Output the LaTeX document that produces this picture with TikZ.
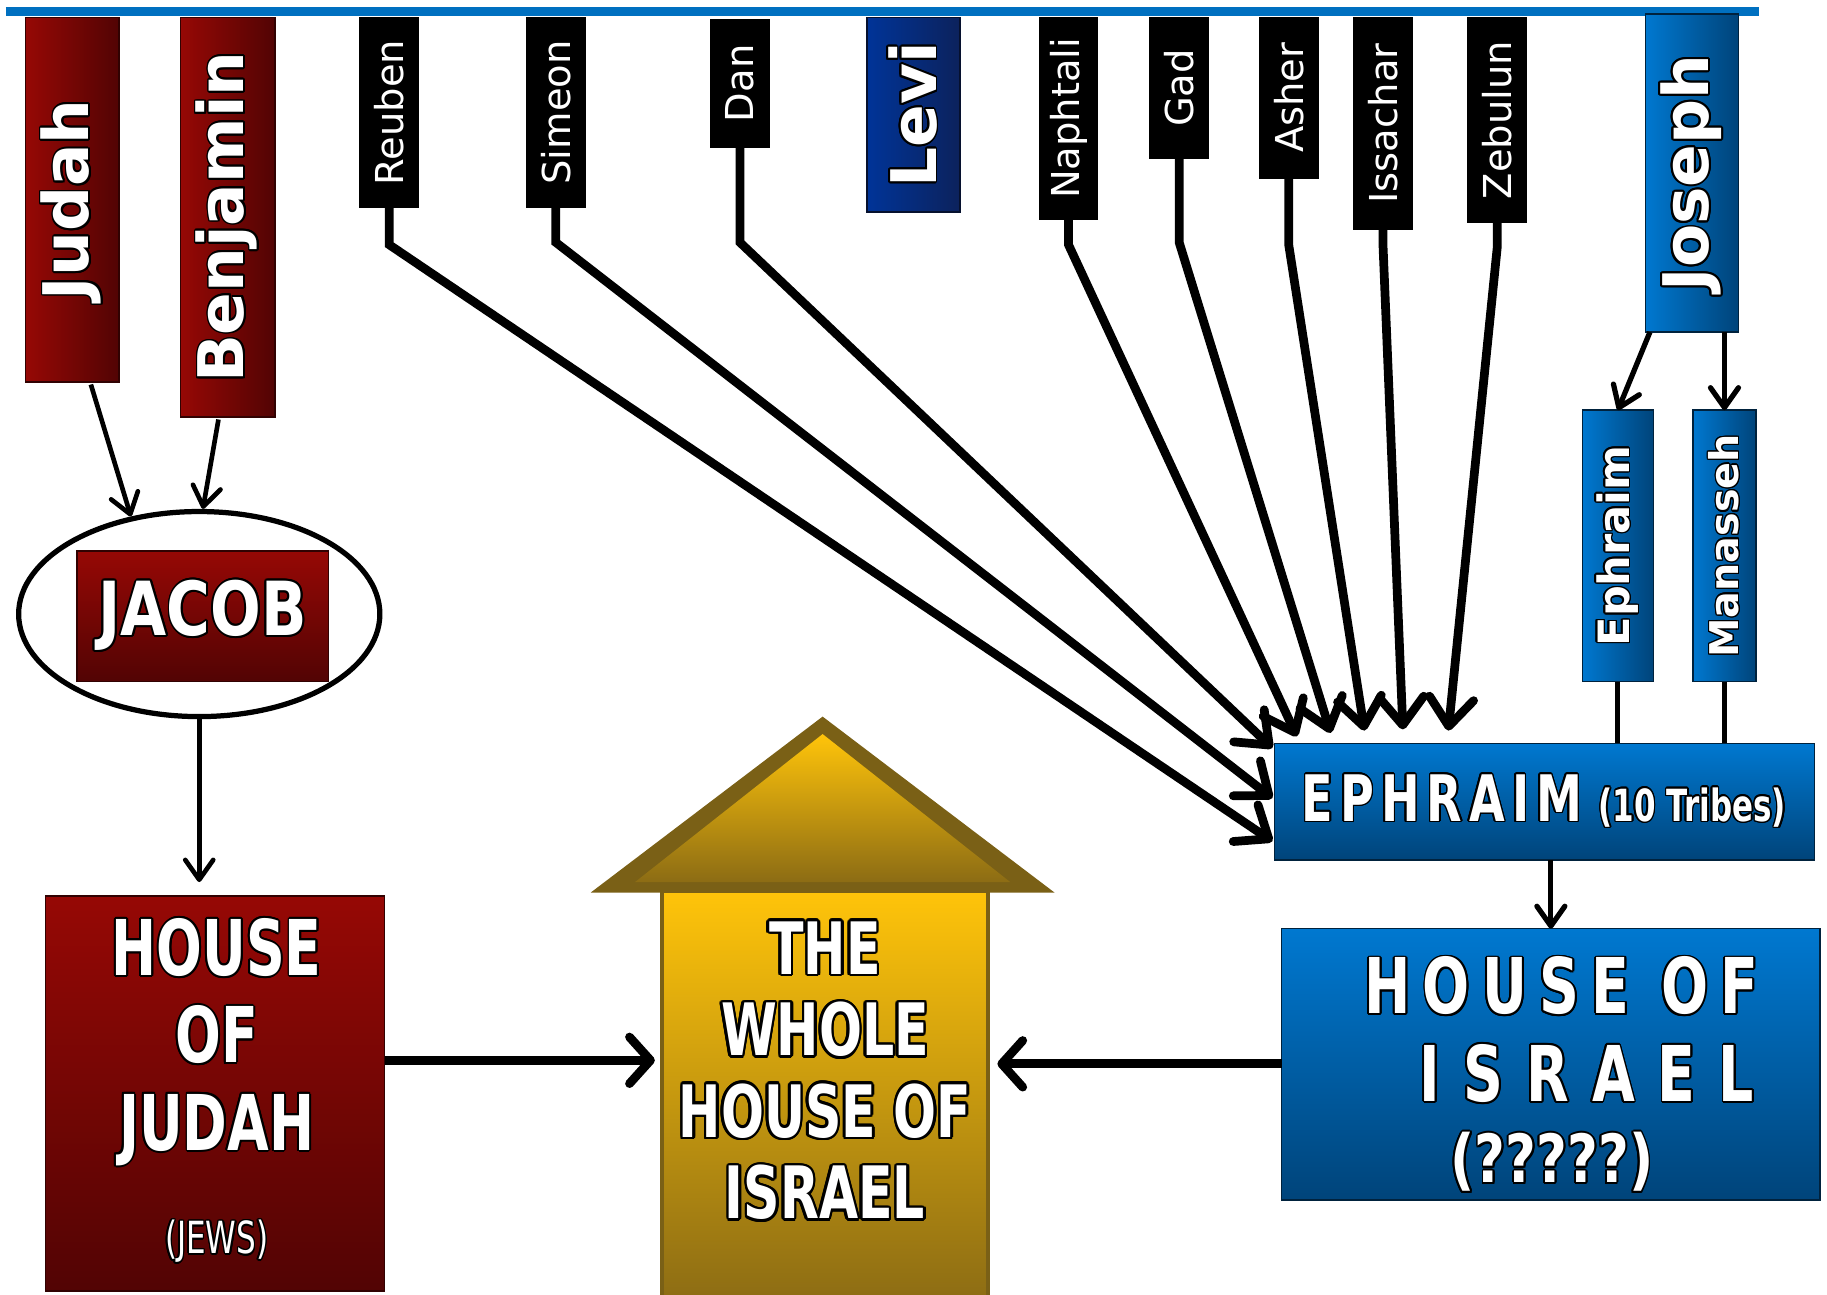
\documentclass[tikz,border=0pt]{standalone}
\usepackage{fontspec}
\setmainfont{DejaVu Sans}
\newfontfamily\condfont{DejaVu Sans}[FakeStretch=0.7]
\newfontfamily\jfont{DejaVu Sans}[FakeStretch=0.8]
\newfontfamily\spfont{DejaVu Sans}[FakeStretch=0.72,LetterSpace=11]
\newfontfamily\hfont{DejaVu Sans}[FakeStretch=0.72,LetterSpace=16]
\newfontfamily\ifont{DejaVu Sans}[FakeStretch=0.72,LetterSpace=30]
\newfontfamily\qfont{DejaVu Sans}[FakeStretch=0.8]
\usepackage{contour}
\usetikzlibrary{arrows.meta,calc,shapes.geometric}
\definecolor{redA}{RGB}{150,8,5}
\definecolor{redB}{RGB}{82,4,4}
\definecolor{blueA}{RGB}{0,120,208}
\definecolor{blueB}{RGB}{0,68,122}
\definecolor{levA}{RGB}{0,52,152}
\definecolor{levB}{RGB}{12,34,92}
\definecolor{goldA}{RGB}{255,196,10}
\definecolor{goldB}{RGB}{140,108,20}
\definecolor{goldE}{RGB}{122,96,22}
\definecolor{topline}{RGB}{0,112,192}
\newcommand\bx[6]{\node[#6, minimum width={(#4-#2)*1pt}, minimum height={(#5-#3)*1pt}] (#1) at ({(#2+#4)/2},{(#3+#5)/2}) {};}
\newcommand\oc[2][1.6pt]{\contourlength{#1}\contour{black}{#2}}
\tikzset{
 box/.style={rectangle, inner sep=0pt, outer sep=0pt, line width=1.2pt, draw=black},
 redh/.style={box, left color=redA, right color=redB, draw=redB!60!black},
 redv/.style={box, top color=redA, bottom color=redB, draw=redB!60!black},
 blueh/.style={box, left color=blueA, right color=blueB, draw=blueB!50!black},
 bluev/.style={box, top color=blueA, bottom color=blueB, draw=blueB!50!black},
 levih/.style={box, left color=levA, right color=levB, draw=levB!50!black},
 goldbox/.style={box, top color=goldA, bottom color=goldB, draw=goldE, line width=3pt},
 blk/.style={box, fill=black},
 vtext/.style={rotate=90, text=white, inner sep=0pt},
 bigname/.style={vtext, font=\bfseries\fontsize{54}{60}\selectfont},
 smallname/.style={vtext, font=\fontsize{33}{38}\selectfont},
 tribearr/.style={line width=7.5pt, -{Straight Barb[length=24pt,width=38pt,round]}},
 thinarr/.style={line width=4pt, -{Straight Barb[length=17pt,width=24pt,round]}},
 fatarr/.style={line width=7.5pt, -{Straight Barb[length=18pt,width=40pt,round]}},
 plain/.style={line width=4.5pt},
}
\begin{document}
\begin{tikzpicture}[x=1pt,y=-1pt]
\useasboundingbox (0,0) rectangle (1568,1111.4);
\draw[line width=8pt, topline] (5,10) -- (1510,10);
% tribe boxes
\bx{judah}{22}{15}{102}{328}{redh}
\node[bigname] at (judah) {\oc{Judah}};
\bx{benj}{155}{15}{236}{358}{redh}
\node[bigname] at (benj) {\oc{Benjamin}};
\bx{reuben}{309}{15}{359}{178}{blk}
\node[smallname] at (reuben) {Reuben};
\bx{simeon}{452}{15}{502}{178}{blk}
\node[smallname] at (simeon) {Simeon};
\bx{dan}{610}{17}{660}{126}{blk}
\node[smallname] at (dan) {Dan};
\bx{levi}{744}{15}{824}{182}{levih}
\node[bigname] at (levi) {\oc{Levi}};
\bx{naph}{892}{15}{942}{188}{blk}
\node[smallname] at (naph) {Naphtali};
\bx{gad}{987}{15}{1037}{136}{blk}
\node[smallname] at (gad) {Gad};
\bx{asher}{1081}{15}{1131}{153}{blk}
\node[smallname] at (asher) {Asher};
\bx{issa}{1162}{15}{1212}{197}{blk}
\node[smallname] at (issa) {Issachar};
\bx{zeb}{1260}{15}{1310}{191}{blk}
\node[smallname] at (zeb) {Zebulun};
\bx{joseph}{1412}{12}{1492}{285}{blueh}
\node[bigname] at (joseph) {\oc{Joseph}};
\bx{ephs}{1358}{352}{1419}{585}{blueh}
\node[vtext, font=\bfseries\fontsize{37}{40}\selectfont] at (ephs) {\oc[1.2pt]{Ephraim}};
\bx{man}{1453}{352}{1507}{585}{blueh}
\node[vtext, font=\bfseries\fontsize{34}{40}\selectfont] at (man) {\oc[1.2pt]{Manasseh}};
% Ephraim (10 tribes)
\bx{eph}{1094}{638}{1557}{738}{bluev}
\node[text=white, inner sep=0pt] at (1325,688) {\spfont\bfseries\fontsize{55}{60}\selectfont\oc[1.4pt]{EPHRAIM}\hspace{14pt}\condfont\fontsize{38}{40}\selectfont\oc[1.3pt]{(10 Tribes)}};
% House of Israel
\bx{hoi}{1100}{797}{1562}{1030}{bluev}
\node[text=white, inner sep=0pt] at (1340,847) {\hfont\bfseries\fontsize{66}{70}\selectfont\oc[1.6pt]{HOUSE OF}};
\node[text=white, inner sep=0pt] at (1362,922) {\ifont\bfseries\fontsize{66}{70}\selectfont\oc[1.6pt]{ISRAEL}};
\node[text=white, inner sep=0pt] at (1332,998) {\qfont\bfseries\fontsize{57}{60}\selectfont\oc[1.6pt]{(?????)}};
% Jacob
\node[ellipse, draw, line width=4.5pt, fill=white, minimum width=310pt, minimum height=176pt, inner sep=0pt] (jacobE) at (171,527) {};
\bx{jacob}{66}{473}{282}{585}{redv}
\node[text=white, inner sep=0pt, font=\jfont\bfseries\fontsize{64}{70}\selectfont] at (jacob) {\oc[1.6pt]{JACOB}};
% House of Judah
\bx{hj}{39}{769}{330}{1108}{redv}
\node[text=white, align=center, inner sep=0pt, font=\condfont\bfseries\fontsize{66}{75}\selectfont] at (186,895) {\oc{HOUSE}\\\oc{OF}\\\oc{JUDAH}};
\node[text=white, inner sep=0pt, font=\condfont\fontsize{38}{40}\selectfont] at (186,1066) {\oc[1.2pt]{(JEWS)}};
% golden arrow
\fill[goldE] (507,766) -- (706,615) -- (905,766) -- cycle;
\shade[top color=goldA, bottom color=goldB] (545,757) -- (706,630) -- (867,757) -- cycle;
\bx{whole}{568}{765}{848}{1118}{goldbox}
\node[text=white, align=center, inner sep=0pt, font=\condfont\bfseries\fontsize{62}{70}\selectfont] at (708,920) {\oc[2.2pt]{THE}\\\oc[2.2pt]{WHOLE}\\\oc[2.2pt]{HOUSE OF}\\\oc[2.2pt]{ISRAEL}};
% connectors: tribes to Ephraim
\draw[tribearr] (reuben.south) -- (reuben.south |- 0,210) -- ($(eph.north west)+(-2,84)$);
\draw[tribearr] (simeon.south) -- (simeon.south |- 0,208) -- ($(eph.north west)+(-2,47)$);
\draw[tribearr] (dan.south) -- (dan.south |- 0,208) -- ($(eph.north west)+(-2,4)$);
\draw[tribearr] (naph.south) -- (naph.south |- 0,210) -- ($(eph.north west)+(19,-6)$);
\draw[tribearr] (gad.south) -- (gad.south |- 0,208) -- ($(eph.north west)+(48,-9)$);
\draw[tribearr] (asher.south) -- (asher.south |- 0,210) -- ($(eph.north west)+(77,-11)$);
\draw[tribearr] (issa.south) -- (issa.south |- 0,212) -- ($(eph.north west)+(110,-12)$);
\draw[tribearr] (zeb.south) -- (zeb.south |- 0,212) -- ($(eph.north west)+(149,-11)$);
% Judah, Benjamin to Jacob
\draw[thinarr] ($(judah.south)+(16,2)$) -- (jacobE.125);
\draw[thinarr] ($(benj.south)+(-8,2)$) -- (jacobE.88);
\draw[thinarr, shorten >=12pt] (jacobE.south) -- (jacobE.south |- hj.north);
% Joseph to sons
\draw[thinarr, line width=4.5pt] ($(joseph.south west)+(4,0)$) -- (ephs.north);
\draw[thinarr, line width=4.5pt] (joseph.south -| man.north) -- (man.north);
\draw[plain] (ephs.south) -- (ephs.south |- eph.north);
\draw[plain] (man.south) -- (man.south |- eph.north);
% Ephraim to House of Israel
\draw[thinarr, line width=4.5pt] (hoi.north |- eph.south) -- (hoi.north);
% into the whole house
\draw[fatarr, shorten >=6pt] (hj.east |- 0,910) -- (whole.west |- 0,910);
\draw[fatarr, shorten >=8pt] (hoi.west |- 0,913) -- (whole.east |- 0,913);
\end{tikzpicture}
\end{document}
